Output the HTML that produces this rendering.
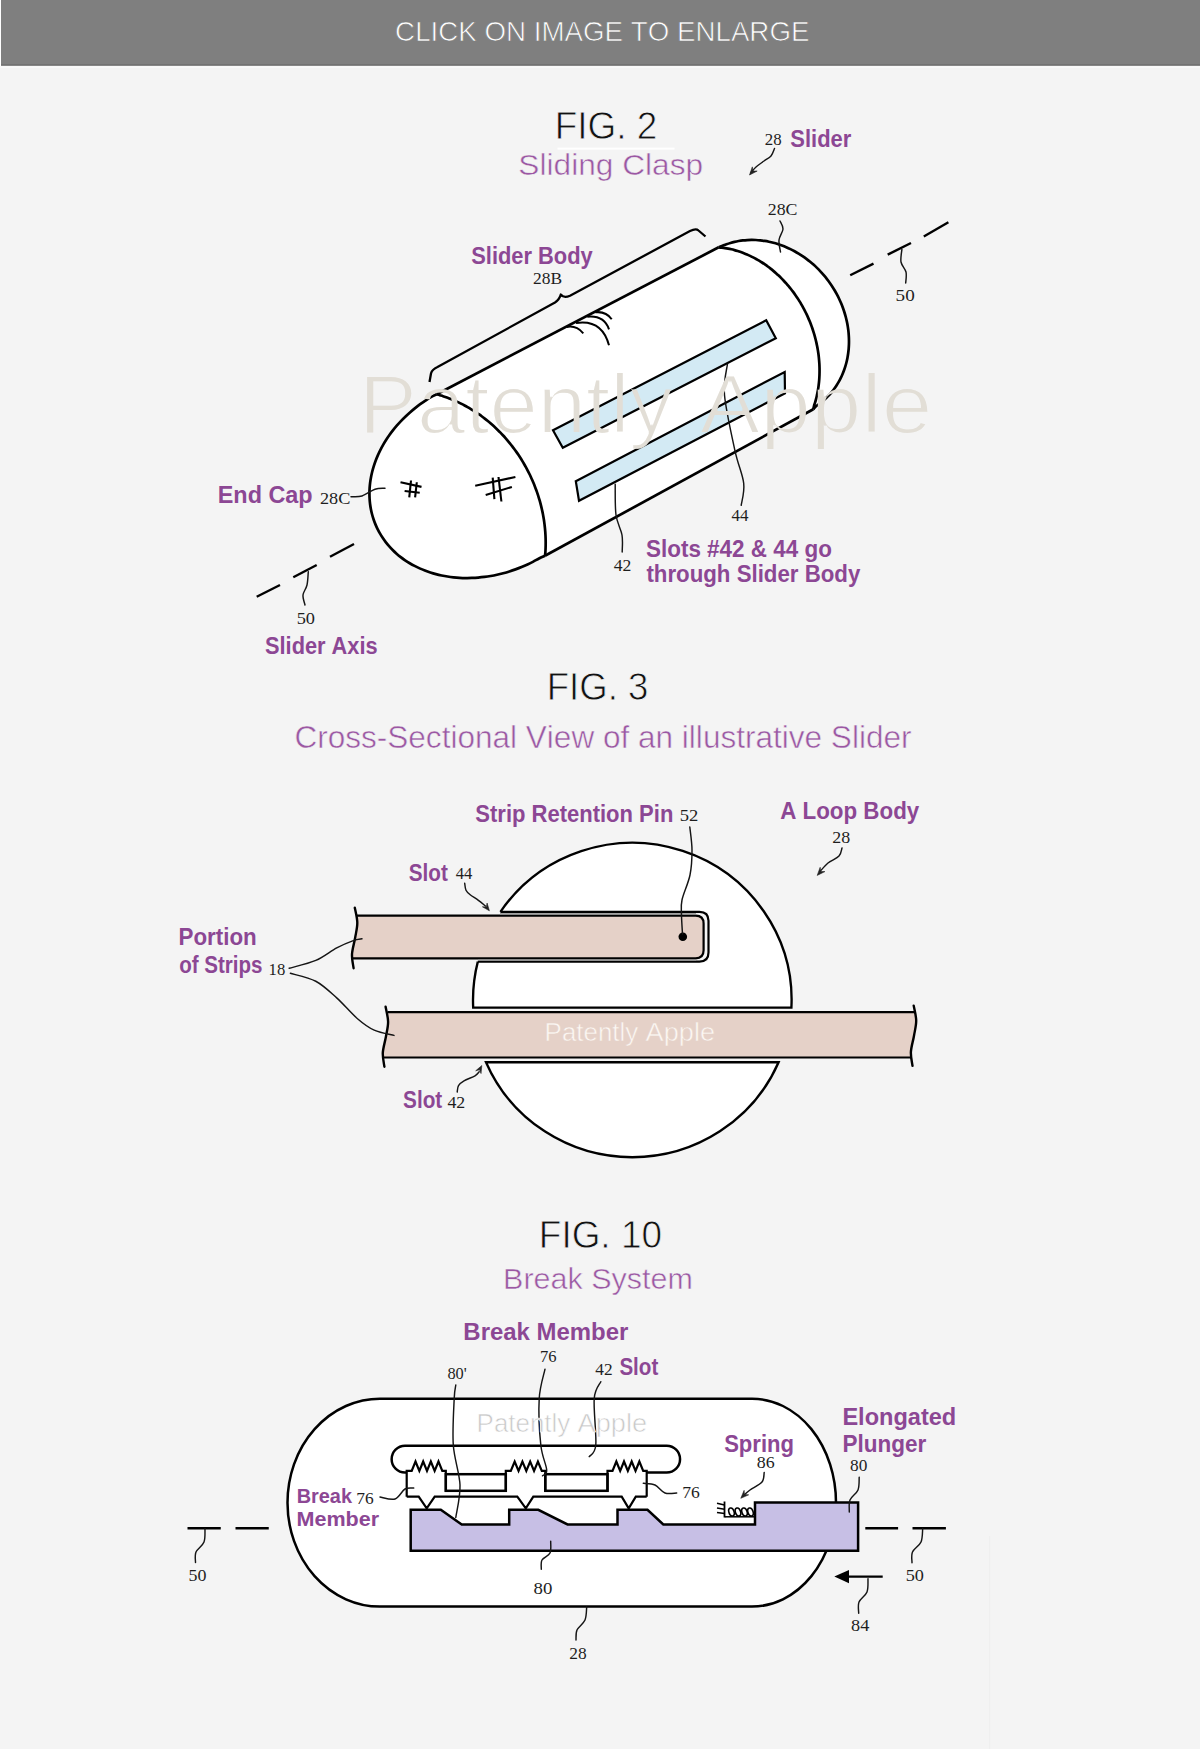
<!DOCTYPE html>
<html><head><meta charset="utf-8"><title>Patent figures</title>
<style>
html,body{margin:0;padding:0;background:#f4f4f4;width:1200px;height:1749px;overflow:hidden;}
svg{display:block;}
text{font-kerning:none;}
</style></head>
<body>
<svg width="1200" height="1749" viewBox="0 0 1200 1749">
<defs><filter id="thin" x="-5%" y="-20%" width="110%" height="140%"><feMorphology operator="erode" radius="1.1"/></filter><filter id="thin2" x="-5%" y="-20%" width="110%" height="140%"><feMorphology operator="erode" radius="0.35"/></filter></defs>
<rect x="0" y="0" width="1200" height="1749" fill="#f4f4f4"/>
<rect x="0" y="0" width="1.2" height="66" fill="#ffffff"/>
<rect x="1" y="0" width="1199" height="65" fill="#7f7f7f"/>
<rect x="1" y="64.4" width="1199" height="1.4" fill="#6b6b6b"/>
<rect x="0" y="66.2" width="1200" height="1.8" fill="#f9f9f9"/>
<text x="395.11" y="41.20" font-family="'Liberation Sans', sans-serif" font-weight="normal" font-size="27.5" fill="#ffffff" textLength="414.34" lengthAdjust="spacingAndGlyphs" stroke="#7f7f7f" stroke-width="0.7">CLICK ON IMAGE TO ENLARGE</text>
<text x="554.75" y="139.30" font-family="'Liberation Sans', sans-serif" font-weight="normal" font-size="39.3" fill="#111111" textLength="102.63" lengthAdjust="spacingAndGlyphs" stroke="#f4f4f4" stroke-width="0.8">FIG. 2</text>
<rect x="557.5" y="147.6" width="117" height="2" fill="#ffffff"/>
<text x="518.38" y="175.30" font-family="'Liberation Sans', sans-serif" font-weight="normal" font-size="29.5" fill="#9b58a3" textLength="184.74" lengthAdjust="spacingAndGlyphs" stroke="#f4f4f4" stroke-width="0.5">Sliding Clasp</text>
<path d="M718.70,247.30 C719.35,247.04 721.29,246.26 722.58,245.75 C723.88,245.23 725.16,244.69 726.47,244.22 C727.78,243.75 729.11,243.32 730.45,242.93 C731.80,242.53 733.16,242.17 734.53,241.86 C735.90,241.54 737.29,241.26 738.68,241.02 C740.08,240.78 741.48,240.57 742.90,240.41 C744.31,240.25 745.74,240.12 747.17,240.04 C748.60,239.95 750.05,239.91 751.49,239.90 C752.94,239.89 754.39,239.93 755.84,240.00 C757.29,240.07 758.75,240.18 760.21,240.33 C761.67,240.48 763.13,240.67 764.59,240.90 C766.05,241.13 767.52,241.40 768.97,241.70 C770.43,242.01 771.89,242.35 773.34,242.73 C774.79,243.12 776.24,243.54 777.68,243.99 C779.12,244.45 780.56,244.95 781.98,245.48 C783.41,246.01 784.83,246.58 786.24,247.19 C787.65,247.79 789.05,248.43 790.43,249.11 C791.82,249.78 793.20,250.50 794.56,251.24 C795.92,251.99 797.27,252.77 798.60,253.58 C799.94,254.39 801.26,255.24 802.56,256.12 C803.86,257.00 805.14,257.91 806.41,258.85 C807.67,259.79 808.92,260.77 810.14,261.77 C811.37,262.77 812.57,263.80 813.76,264.86 C814.94,265.92 816.10,267.01 817.24,268.13 C818.38,269.24 819.49,270.39 820.58,271.55 C821.67,272.72 822.73,273.91 823.77,275.13 C824.81,276.35 825.82,277.59 826.80,278.85 C827.78,280.11 828.74,281.40 829.67,282.70 C830.59,284.01 831.49,285.33 832.36,286.68 C833.22,288.02 834.06,289.38 834.87,290.76 C835.67,292.14 836.45,293.54 837.19,294.95 C837.93,296.36 838.64,297.79 839.31,299.23 C839.99,300.67 840.63,302.12 841.24,303.58 C841.85,305.05 842.42,306.52 842.96,308.01 C843.50,309.49 844.01,310.98 844.47,312.48 C844.94,313.98 845.38,315.49 845.77,317.01 C846.17,318.52 846.53,320.04 846.85,321.56 C847.18,323.08 847.47,324.61 847.72,326.13 C847.97,327.66 848.18,329.18 848.36,330.71 C848.53,332.24 848.67,333.76 848.77,335.29 C848.87,336.81 848.94,338.33 848.96,339.84 C848.99,341.36 848.98,342.87 848.93,344.37 C848.88,345.88 848.79,347.37 848.67,348.86 C848.54,350.35 848.38,351.83 848.18,353.30 C847.98,354.76 847.75,356.22 847.48,357.67 C847.20,359.11 846.89,360.54 846.55,361.96 C846.20,363.38 845.82,364.78 845.40,366.17 C844.98,367.55 844.52,368.93 844.03,370.28 C843.54,371.63 843.02,372.96 842.46,374.28 C841.90,375.59 841.30,376.88 840.67,378.15 C840.04,379.43 839.38,380.68 838.68,381.90 C837.99,383.13 837.26,384.33 836.50,385.51 C835.73,386.69 834.94,387.84 834.12,388.97 C833.29,390.09 832.44,391.20 831.55,392.27 C830.67,393.34 829.75,394.38 828.81,395.40 C827.86,396.41 826.89,397.40 825.89,398.35 C824.89,399.31 823.86,400.23 822.81,401.13 C821.76,402.02 820.68,402.88 819.57,403.71 C818.47,404.53 817.23,405.15 816.19,406.09 C815.14,407.02 813.78,408.76 813.30,409.30 L545.0,555.8 C544.00,556.25 540.95,557.53 539.00,558.50 C537.06,559.46 535.24,560.60 533.32,561.59 C531.40,562.58 529.46,563.53 527.50,564.43 C525.54,565.34 523.56,566.20 521.56,567.02 C519.57,567.85 517.55,568.62 515.52,569.36 C513.50,570.09 511.45,570.78 509.40,571.42 C507.35,572.07 505.28,572.67 503.21,573.22 C501.14,573.77 499.06,574.28 496.98,574.74 C494.89,575.20 492.80,575.61 490.71,575.97 C488.62,576.34 486.52,576.66 484.43,576.92 C482.34,577.19 480.24,577.41 478.16,577.59 C476.07,577.76 473.98,577.88 471.91,577.96 C469.83,578.04 467.76,578.06 465.70,578.04 C463.64,578.02 461.59,577.95 459.55,577.83 C457.52,577.72 455.49,577.55 453.48,577.33 C451.47,577.12 449.48,576.86 447.51,576.54 C445.53,576.23 443.58,575.87 441.64,575.47 C439.71,575.06 437.80,574.61 435.91,574.11 C434.02,573.61 432.16,573.06 430.32,572.47 C428.49,571.88 426.67,571.24 424.89,570.56 C423.12,569.87 421.36,569.14 419.65,568.37 C417.93,567.60 416.24,566.78 414.59,565.92 C412.94,565.07 411.32,564.16 409.74,563.22 C408.16,562.28 406.61,561.29 405.11,560.27 C403.60,559.24 402.14,558.18 400.71,557.08 C399.29,555.97 397.90,554.83 396.57,553.65 C395.23,552.48 393.93,551.26 392.68,550.01 C391.42,548.76 390.22,547.47 389.06,546.16 C387.90,544.84 386.78,543.48 385.72,542.10 C384.65,540.72 383.63,539.30 382.67,537.86 C381.70,536.42 380.78,534.94 379.92,533.44 C379.05,531.94 378.24,530.41 377.47,528.86 C376.71,527.31 376.00,525.73 375.35,524.13 C374.69,522.53 374.08,520.91 373.54,519.27 C372.99,517.63 372.49,515.96 372.05,514.28 C371.61,512.60 371.23,510.90 370.90,509.19 C370.57,507.47 370.29,505.74 370.07,504.00 C369.85,502.26 369.69,500.50 369.59,498.73 C369.48,496.97 369.43,495.19 369.44,493.40 C369.44,491.62 369.50,489.83 369.62,488.03 C369.74,486.23 369.91,484.43 370.14,482.62 C370.37,480.81 370.66,479.00 371.00,477.20 C371.34,475.39 371.74,473.58 372.19,471.77 C372.64,469.96 373.15,468.16 373.71,466.36 C374.27,464.56 374.89,462.76 375.55,460.98 C376.22,459.19 376.94,457.41 377.72,455.64 C378.49,453.88 379.31,452.12 380.19,450.37 C381.07,448.63 382.00,446.89 382.97,445.17 C383.95,443.46 384.98,441.75 386.05,440.07 C387.13,438.38 388.25,436.72 389.42,435.07 C390.59,433.42 391.81,431.79 393.07,430.19 C394.33,428.59 395.64,427.00 396.99,425.45 C398.34,423.89 399.73,422.35 401.16,420.85 C402.59,419.34 404.07,417.86 405.58,416.41 C407.09,414.97 408.65,413.54 410.23,412.15 C411.82,410.76 413.45,409.40 415.11,408.08 C416.77,406.75 418.46,405.46 420.18,404.20 C421.91,402.95 423.67,401.72 425.45,400.54 C427.24,399.35 429.02,398.15 430.90,397.09 C432.77,396.03 435.73,394.68 436.70,394.20 L718.7,247.3Z" fill="#ffffff" stroke="none"/>
<path d="M718.70,247.30 C719.35,247.04 721.29,246.26 722.58,245.75 C723.88,245.23 725.16,244.69 726.47,244.22 C727.78,243.75 729.11,243.32 730.45,242.93 C731.80,242.53 733.16,242.17 734.53,241.86 C735.90,241.54 737.29,241.26 738.68,241.02 C740.08,240.78 741.48,240.57 742.90,240.41 C744.31,240.25 745.74,240.12 747.17,240.04 C748.60,239.95 750.05,239.91 751.49,239.90 C752.94,239.89 754.39,239.93 755.84,240.00 C757.29,240.07 758.75,240.18 760.21,240.33 C761.67,240.48 763.13,240.67 764.59,240.90 C766.05,241.13 767.52,241.40 768.97,241.70 C770.43,242.01 771.89,242.35 773.34,242.73 C774.79,243.12 776.24,243.54 777.68,243.99 C779.12,244.45 780.56,244.95 781.98,245.48 C783.41,246.01 784.83,246.58 786.24,247.19 C787.65,247.79 789.05,248.43 790.43,249.11 C791.82,249.78 793.20,250.50 794.56,251.24 C795.92,251.99 797.27,252.77 798.60,253.58 C799.94,254.39 801.26,255.24 802.56,256.12 C803.86,257.00 805.14,257.91 806.41,258.85 C807.67,259.79 808.92,260.77 810.14,261.77 C811.37,262.77 812.57,263.80 813.76,264.86 C814.94,265.92 816.10,267.01 817.24,268.13 C818.38,269.24 819.49,270.39 820.58,271.55 C821.67,272.72 822.73,273.91 823.77,275.13 C824.81,276.35 825.82,277.59 826.80,278.85 C827.78,280.11 828.74,281.40 829.67,282.70 C830.59,284.01 831.49,285.33 832.36,286.68 C833.22,288.02 834.06,289.38 834.87,290.76 C835.67,292.14 836.45,293.54 837.19,294.95 C837.93,296.36 838.64,297.79 839.31,299.23 C839.99,300.67 840.63,302.12 841.24,303.58 C841.85,305.05 842.42,306.52 842.96,308.01 C843.50,309.49 844.01,310.98 844.47,312.48 C844.94,313.98 845.38,315.49 845.77,317.01 C846.17,318.52 846.53,320.04 846.85,321.56 C847.18,323.08 847.47,324.61 847.72,326.13 C847.97,327.66 848.18,329.18 848.36,330.71 C848.53,332.24 848.67,333.76 848.77,335.29 C848.87,336.81 848.94,338.33 848.96,339.84 C848.99,341.36 848.98,342.87 848.93,344.37 C848.88,345.88 848.79,347.37 848.67,348.86 C848.54,350.35 848.38,351.83 848.18,353.30 C847.98,354.76 847.75,356.22 847.48,357.67 C847.20,359.11 846.89,360.54 846.55,361.96 C846.20,363.38 845.82,364.78 845.40,366.17 C844.98,367.55 844.52,368.93 844.03,370.28 C843.54,371.63 843.02,372.96 842.46,374.28 C841.90,375.59 841.30,376.88 840.67,378.15 C840.04,379.43 839.38,380.68 838.68,381.90 C837.99,383.13 837.26,384.33 836.50,385.51 C835.73,386.69 834.94,387.84 834.12,388.97 C833.29,390.09 832.44,391.20 831.55,392.27 C830.67,393.34 829.75,394.38 828.81,395.40 C827.86,396.41 826.89,397.40 825.89,398.35 C824.89,399.31 823.86,400.23 822.81,401.13 C821.76,402.02 820.68,402.88 819.57,403.71 C818.47,404.53 817.23,405.15 816.19,406.09 C815.14,407.02 813.78,408.76 813.30,409.30" fill="none" stroke="#000" stroke-width="2.7"/>
<path d="M718.70,247.30 C719.23,247.35 720.80,247.49 721.86,247.61 C722.91,247.74 723.97,247.88 725.02,248.05 C726.07,248.21 727.13,248.40 728.18,248.61 C729.24,248.81 730.29,249.04 731.34,249.28 C732.40,249.53 733.45,249.80 734.50,250.08 C735.55,250.37 736.60,250.68 737.64,251.00 C738.69,251.33 739.73,251.67 740.77,252.04 C741.82,252.40 742.85,252.79 743.89,253.19 C744.92,253.60 745.95,254.02 746.98,254.46 C748.01,254.90 749.03,255.37 750.05,255.85 C751.07,256.33 752.08,256.83 753.09,257.34 C754.10,257.86 755.11,258.40 756.10,258.95 C757.10,259.51 758.09,260.08 759.08,260.67 C760.07,261.26 761.05,261.87 762.02,262.50 C762.99,263.13 763.96,263.77 764.92,264.43 C765.87,265.09 766.83,265.77 767.77,266.47 C768.71,267.16 769.65,267.87 770.57,268.60 C771.50,269.33 772.42,270.08 773.33,270.84 C774.24,271.60 775.14,272.37 776.03,273.17 C776.92,273.96 777.80,274.77 778.67,275.59 C779.54,276.41 780.40,277.25 781.25,278.11 C782.10,278.96 782.94,279.83 783.77,280.71 C784.60,281.59 785.42,282.48 786.22,283.39 C787.03,284.30 787.82,285.23 788.61,286.16 C789.39,287.10 790.16,288.05 790.92,289.01 C791.68,289.97 792.43,290.95 793.16,291.93 C793.89,292.92 794.61,293.92 795.32,294.93 C796.03,295.94 796.72,296.96 797.40,297.99 C798.08,299.02 798.75,300.06 799.40,301.12 C800.06,302.17 800.70,303.23 801.32,304.31 C801.95,305.38 802.56,306.46 803.15,307.55 C803.75,308.64 804.33,309.74 804.90,310.85 C805.46,311.96 806.01,313.08 806.55,314.20 C807.09,315.33 807.61,316.46 808.11,317.60 C808.62,318.74 809.11,319.89 809.58,321.04 C810.05,322.20 810.51,323.36 810.95,324.52 C811.39,325.69 811.82,326.86 812.23,328.04 C812.63,329.21 813.03,330.40 813.40,331.58 C813.78,332.77 814.14,333.96 814.48,335.15 C814.82,336.35 815.15,337.55 815.45,338.75 C815.76,339.95 816.05,341.15 816.33,342.36 C816.60,343.57 816.86,344.78 817.10,345.99 C817.34,347.20 817.56,348.41 817.76,349.63 C817.97,350.84 818.16,352.06 818.33,353.27 C818.50,354.49 818.65,355.70 818.78,356.92 C818.92,358.13 819.03,359.35 819.13,360.56 C819.23,361.77 819.31,362.99 819.38,364.20 C819.44,365.41 819.49,366.62 819.51,367.83 C819.54,369.03 819.55,370.24 819.54,371.44 C819.54,372.64 819.51,373.84 819.47,375.03 C819.43,376.23 819.36,377.42 819.29,378.60 C819.21,379.79 819.11,380.97 819.00,382.15 C818.88,383.32 818.75,384.50 818.60,385.66 C818.45,386.83 818.28,387.99 818.10,389.14 C817.91,390.29 817.71,391.44 817.49,392.58 C817.27,393.72 817.04,394.85 816.78,395.98 C816.53,397.10 816.26,398.22 815.97,399.33 C815.68,400.43 815.37,401.54 815.05,402.63 C814.73,403.72 814.32,404.76 814.03,405.87 C813.74,406.98 813.42,408.73 813.30,409.30" fill="none" stroke="#000" stroke-width="2.7"/>
<path d="M436.70,394.20 C435.73,394.68 432.77,396.03 430.90,397.09 C429.02,398.15 427.24,399.35 425.45,400.54 C423.67,401.72 421.91,402.95 420.18,404.20 C418.46,405.46 416.77,406.75 415.11,408.08 C413.45,409.40 411.82,410.76 410.23,412.15 C408.65,413.54 407.09,414.97 405.58,416.41 C404.07,417.86 402.59,419.34 401.16,420.85 C399.73,422.35 398.34,423.89 396.99,425.45 C395.64,427.00 394.33,428.59 393.07,430.19 C391.81,431.79 390.59,433.42 389.42,435.07 C388.25,436.72 387.13,438.38 386.05,440.07 C384.98,441.75 383.95,443.46 382.97,445.17 C382.00,446.89 381.07,448.63 380.19,450.37 C379.31,452.12 378.49,453.88 377.72,455.64 C376.94,457.41 376.22,459.19 375.55,460.98 C374.89,462.76 374.27,464.56 373.71,466.36 C373.15,468.16 372.64,469.96 372.19,471.77 C371.74,473.58 371.34,475.39 371.00,477.20 C370.66,479.00 370.37,480.81 370.14,482.62 C369.91,484.43 369.74,486.23 369.62,488.03 C369.50,489.83 369.44,491.62 369.44,493.40 C369.43,495.19 369.48,496.97 369.59,498.73 C369.69,500.50 369.85,502.26 370.07,504.00 C370.29,505.74 370.57,507.47 370.90,509.19 C371.23,510.90 371.61,512.60 372.05,514.28 C372.49,515.96 372.99,517.63 373.54,519.27 C374.08,520.91 374.69,522.53 375.35,524.13 C376.00,525.73 376.71,527.31 377.47,528.86 C378.24,530.41 379.05,531.94 379.92,533.44 C380.78,534.94 381.70,536.42 382.67,537.86 C383.63,539.30 384.65,540.72 385.72,542.10 C386.78,543.48 387.90,544.84 389.06,546.16 C390.22,547.47 391.42,548.76 392.68,550.01 C393.93,551.26 395.23,552.48 396.57,553.65 C397.90,554.83 399.29,555.97 400.71,557.08 C402.14,558.18 403.60,559.24 405.11,560.27 C406.61,561.29 408.16,562.28 409.74,563.22 C411.32,564.16 412.94,565.07 414.59,565.92 C416.24,566.78 417.93,567.60 419.65,568.37 C421.36,569.14 423.12,569.87 424.89,570.56 C426.67,571.24 428.49,571.88 430.32,572.47 C432.16,573.06 434.02,573.61 435.91,574.11 C437.80,574.61 439.71,575.06 441.64,575.47 C443.58,575.87 445.53,576.23 447.51,576.54 C449.48,576.86 451.47,577.12 453.48,577.33 C455.49,577.55 457.52,577.72 459.55,577.83 C461.59,577.95 463.64,578.02 465.70,578.04 C467.76,578.06 469.83,578.04 471.91,577.96 C473.98,577.88 476.07,577.76 478.16,577.59 C480.24,577.41 482.34,577.19 484.43,576.92 C486.52,576.66 488.62,576.34 490.71,575.97 C492.80,575.61 494.89,575.20 496.98,574.74 C499.06,574.28 501.14,573.77 503.21,573.22 C505.28,572.67 507.35,572.07 509.40,571.42 C511.45,570.78 513.50,570.09 515.52,569.36 C517.55,568.62 519.57,567.85 521.56,567.02 C523.56,566.20 525.54,565.34 527.50,564.43 C529.46,563.53 531.40,562.58 533.32,561.59 C535.24,560.60 537.06,559.46 539.00,558.50 C540.95,557.53 544.00,556.25 545.00,555.80" fill="none" stroke="#000" stroke-width="2.7"/>
<path d="M436.70,394.20 C437.23,394.37 438.81,394.86 439.86,395.19 C440.91,395.52 441.97,395.84 443.02,396.18 C444.07,396.52 445.11,396.88 446.16,397.25 C447.20,397.62 448.24,398.01 449.28,398.41 C450.32,398.80 451.36,399.22 452.39,399.65 C453.42,400.07 454.45,400.52 455.48,400.97 C456.50,401.43 457.53,401.89 458.54,402.38 C459.56,402.86 460.57,403.36 461.58,403.87 C462.59,404.38 463.60,404.90 464.60,405.44 C465.60,405.97 466.59,406.52 467.58,407.09 C468.57,407.65 469.56,408.23 470.53,408.82 C471.51,409.41 472.49,410.01 473.46,410.62 C474.42,411.24 475.39,411.87 476.34,412.51 C477.30,413.15 478.25,413.80 479.19,414.47 C480.14,415.13 481.07,415.81 482.01,416.50 C482.94,417.19 483.86,417.89 484.78,418.60 C485.69,419.32 486.60,420.04 487.51,420.78 C488.41,421.52 489.31,422.26 490.19,423.02 C491.08,423.78 491.96,424.56 492.83,425.34 C493.71,426.12 494.57,426.92 495.43,427.72 C496.28,428.52 497.13,429.34 497.97,430.17 C498.81,430.99 499.64,431.83 500.46,432.68 C501.29,433.52 502.10,434.38 502.91,435.25 C503.71,436.11 504.51,436.99 505.29,437.88 C506.08,438.77 506.86,439.66 507.62,440.57 C508.39,441.48 509.15,442.39 509.90,443.32 C510.65,444.24 511.39,445.18 512.11,446.12 C512.84,447.06 513.56,448.01 514.27,448.97 C514.98,449.93 515.68,450.90 516.36,451.88 C517.05,452.86 517.73,453.84 518.40,454.83 C519.06,455.83 519.72,456.83 520.36,457.84 C521.01,458.85 521.64,459.86 522.26,460.88 C522.89,461.91 523.50,462.94 524.10,463.98 C524.70,465.01 525.29,466.06 525.87,467.11 C526.44,468.16 527.01,469.22 527.56,470.28 C528.12,471.34 528.66,472.41 529.19,473.49 C529.72,474.56 530.24,475.64 530.75,476.73 C531.25,477.82 531.75,478.91 532.23,480.01 C532.71,481.10 533.18,482.21 533.64,483.31 C534.10,484.42 534.54,485.53 534.98,486.65 C535.41,487.76 535.83,488.88 536.24,490.01 C536.64,491.13 537.04,492.26 537.42,493.39 C537.80,494.53 538.17,495.66 538.53,496.80 C538.88,497.94 539.23,499.08 539.56,500.23 C539.89,501.37 540.21,502.52 540.51,503.67 C540.81,504.82 541.11,505.97 541.38,507.13 C541.66,508.28 541.93,509.44 542.18,510.60 C542.43,511.76 542.67,512.92 542.89,514.08 C543.12,515.24 543.33,516.41 543.52,517.57 C543.72,518.73 543.91,519.90 544.08,521.06 C544.25,522.23 544.40,523.40 544.55,524.56 C544.69,525.73 544.82,526.90 544.94,528.06 C545.05,529.23 545.16,530.40 545.25,531.56 C545.33,532.73 545.41,533.89 545.47,535.06 C545.53,536.22 545.58,537.38 545.61,538.55 C545.65,539.71 545.67,540.87 545.68,542.03 C545.68,543.19 545.68,544.34 545.66,545.50 C545.63,546.65 545.60,547.81 545.55,548.96 C545.50,550.11 545.46,551.26 545.37,552.40 C545.27,553.54 545.06,555.23 545.00,555.80" fill="none" stroke="#000" stroke-width="2.7"/>
<line x1="436.7" y1="394.2" x2="718.7" y2="247.3" stroke="#000" stroke-width="2.7" stroke-linecap="butt"/>
<line x1="545.0" y1="555.8" x2="813.3" y2="409.3" stroke="#000" stroke-width="2.7" stroke-linecap="butt"/>
<path d="M553,430.3 L766.2,320.3 L775.8,338.2 L562.8,447.8Z" fill="#d3eaf4" stroke="#000" stroke-width="2.2" stroke-linejoin="miter"/>
<path d="M575.8,481.2 L784.7,372 L785,393.3 L579,500.7Z" fill="#d3eaf4" stroke="#000" stroke-width="2.2" stroke-linejoin="miter"/>
<path d="M566.7,327 Q576,325 583.3,333.3" fill="none" stroke="#000" stroke-width="2"/>
<path d="M576,323 Q602,319 609,345.3" fill="none" stroke="#000" stroke-width="2"/>
<path d="M587.3,316.7 Q604,315 609,329.3" fill="none" stroke="#000" stroke-width="2"/>
<path d="M595.3,312.3 Q606,311 611.7,319.3" fill="none" stroke="#000" stroke-width="2"/>
<line x1="400.5" y1="482.3" x2="421.5" y2="486.9" stroke="#000" stroke-width="2.1" stroke-linecap="butt"/>
<line x1="404.6" y1="491" x2="419.75" y2="492.75" stroke="#000" stroke-width="2.1" stroke-linecap="butt"/>
<line x1="411" y1="480.5" x2="409.25" y2="497.4" stroke="#000" stroke-width="2.1" stroke-linecap="butt"/>
<line x1="416.8" y1="482.25" x2="415.1" y2="497.4" stroke="#000" stroke-width="2.1" stroke-linecap="butt"/>
<line x1="475.2" y1="485.75" x2="515.4" y2="477" stroke="#000" stroke-width="2.1" stroke-linecap="butt"/>
<line x1="485.7" y1="495.1" x2="511.9" y2="486.9" stroke="#000" stroke-width="2.1" stroke-linecap="butt"/>
<line x1="492.7" y1="477.6" x2="494.4" y2="499.2" stroke="#000" stroke-width="2.1" stroke-linecap="butt"/>
<line x1="498.5" y1="477" x2="501.4" y2="501.5" stroke="#000" stroke-width="2.1" stroke-linecap="butt"/>
<path d="M429.5,382 L431,373.5 Q432,369.5 437.5,367 L555,302.5 Q559.5,299.5 560.8,294.5 Q563.5,298.5 570,295.8 L690,231 Q696,228 698.5,230.5 L705.5,236.5" fill="none" stroke="#000" stroke-width="2.3" stroke-linejoin="round"/>
<line x1="850.2" y1="275.2" x2="873.5" y2="263.6" stroke="#000" stroke-width="2.4" stroke-linecap="butt"/>
<line x1="887.7" y1="254.6" x2="911" y2="243" stroke="#000" stroke-width="2.4" stroke-linecap="butt"/>
<line x1="923.8" y1="236.5" x2="948.4" y2="222.3" stroke="#000" stroke-width="2.4" stroke-linecap="butt"/>
<line x1="256.7" y1="596.7" x2="280" y2="585" stroke="#000" stroke-width="2.4" stroke-linecap="butt"/>
<line x1="293.3" y1="577.3" x2="316.7" y2="565" stroke="#000" stroke-width="2.4" stroke-linecap="butt"/>
<line x1="330" y1="556.7" x2="354" y2="544" stroke="#000" stroke-width="2.4" stroke-linecap="butt"/>
<path d="M774.50,148.50 C773.92,149.75 772.75,153.92 771.00,156.00 C769.25,158.08 766.50,159.17 764.00,161.00 C761.50,162.83 758.17,165.08 756.00,167.00 C753.83,168.92 751.83,171.58 751.00,172.50" fill="none" stroke="#151515" stroke-width="1.45" stroke-linecap="round"/>
<path d="M749.50,175.00 L752.32,166.86 L752.91,171.07 L757.16,171.05Z" fill="#222" stroke="#222" stroke-width="0.6" stroke-linejoin="round"/>
<path d="M780.00,221.00 C780.50,222.33 783.17,225.83 783.00,229.00 C782.83,232.17 779.42,236.17 779.00,240.00 C778.58,243.83 780.25,250.00 780.50,252.00" fill="none" stroke="#151515" stroke-width="1.45" stroke-linecap="round"/>
<path d="M901.90,249.40 C901.75,251.50 900.32,258.23 901.00,262.00 C901.68,265.77 905.22,268.50 906.00,272.00 C906.78,275.50 905.75,281.17 905.70,283.00" fill="none" stroke="#151515" stroke-width="1.45" stroke-linecap="round"/>
<path d="M308.30,571.70 C308.08,573.92 307.88,581.12 307.00,585.00 C306.12,588.88 303.33,591.67 303.00,595.00 C302.67,598.33 304.67,603.33 305.00,605.00" fill="none" stroke="#151515" stroke-width="1.45" stroke-linecap="round"/>
<path d="M351.00,496.70 C352.83,496.58 358.00,497.25 362.00,496.00 C366.00,494.75 371.17,490.48 375.00,489.20 C378.83,487.92 383.33,488.45 385.00,488.30" fill="none" stroke="#151515" stroke-width="1.45" stroke-linecap="round"/>
<path d="M727.40,364.20 C726.92,369.33 723.23,380.57 724.50,395.00 C725.77,409.43 731.80,436.08 735.00,450.80 C738.20,465.52 742.67,474.22 743.70,483.30 C744.73,492.38 741.62,501.63 741.20,505.30" fill="none" stroke="#151515" stroke-width="1.45" stroke-linecap="round"/>
<path d="M615.20,484.30 C615.33,489.42 614.87,506.55 616.00,515.00 C617.13,523.45 620.97,528.83 622.00,535.00 C623.03,541.17 622.17,549.17 622.20,552.00" fill="none" stroke="#151515" stroke-width="1.45" stroke-linecap="round"/>
<text x="764.78" y="145.00" font-family="'Liberation Serif', serif" font-weight="normal" font-size="17.6" fill="#1e1e1e" textLength="16.85" lengthAdjust="spacingAndGlyphs">28</text>
<text x="790.34" y="147.30" font-family="'Liberation Sans', sans-serif" font-weight="bold" font-size="23.5" fill="#8c4794" textLength="60.96" lengthAdjust="spacingAndGlyphs">Slider</text>
<text x="767.74" y="215.30" font-family="'Liberation Serif', serif" font-weight="normal" font-size="17.6" fill="#1e1e1e" textLength="29.73" lengthAdjust="spacingAndGlyphs">28C</text>
<text x="471.24" y="263.60" font-family="'Liberation Sans', sans-serif" font-weight="bold" font-size="23.5" fill="#8c4794" textLength="121.51" lengthAdjust="spacingAndGlyphs">Slider Body</text>
<text x="532.96" y="283.70" font-family="'Liberation Serif', serif" font-weight="normal" font-size="17.6" fill="#1e1e1e" textLength="29.11" lengthAdjust="spacingAndGlyphs">28B</text>
<text x="895.60" y="301.00" font-family="'Liberation Serif', serif" font-weight="normal" font-size="17.6" fill="#1e1e1e" textLength="19.12" lengthAdjust="spacingAndGlyphs">50</text>
<text x="217.72" y="503.30" font-family="'Liberation Sans', sans-serif" font-weight="bold" font-size="23.5" fill="#8c4794" textLength="94.93" lengthAdjust="spacingAndGlyphs">End Cap</text>
<text x="319.93" y="504.30" font-family="'Liberation Serif', serif" font-weight="normal" font-size="17.6" fill="#1e1e1e" textLength="30.37" lengthAdjust="spacingAndGlyphs">28C</text>
<text x="731.46" y="521.00" font-family="'Liberation Serif', serif" font-weight="normal" font-size="17.6" fill="#1e1e1e" textLength="16.99" lengthAdjust="spacingAndGlyphs">44</text>
<text x="646.03" y="556.70" font-family="'Liberation Sans', sans-serif" font-weight="bold" font-size="23.5" fill="#8c4794" textLength="185.84" lengthAdjust="spacingAndGlyphs">Slots #42 &amp; 44 go</text>
<text x="646.42" y="582.30" font-family="'Liberation Sans', sans-serif" font-weight="bold" font-size="23.5" fill="#8c4794" textLength="213.92" lengthAdjust="spacingAndGlyphs">through Slider Body</text>
<text x="613.65" y="570.70" font-family="'Liberation Serif', serif" font-weight="normal" font-size="17.6" fill="#1e1e1e" textLength="17.62" lengthAdjust="spacingAndGlyphs">42</text>
<text x="296.65" y="624.30" font-family="'Liberation Serif', serif" font-weight="normal" font-size="17.6" fill="#1e1e1e" textLength="18.34" lengthAdjust="spacingAndGlyphs">50</text>
<text x="265.04" y="654.00" font-family="'Liberation Sans', sans-serif" font-weight="bold" font-size="23.5" fill="#8c4794" textLength="112.58" lengthAdjust="spacingAndGlyphs">Slider Axis</text>
<text x="359.14" y="432.50" font-family="'Liberation Sans', sans-serif" font-weight="normal" font-size="83" fill="#e2ded6" textLength="313.76" lengthAdjust="spacingAndGlyphs" filter="url(#thin)">Patently</text>
<text x="699.47" y="432.50" font-family="'Liberation Sans', sans-serif" font-weight="normal" font-size="83" fill="#e2ded6" textLength="232.81" lengthAdjust="spacingAndGlyphs" filter="url(#thin)">Apple</text>
<text x="546.79" y="699.70" font-family="'Liberation Sans', sans-serif" font-weight="normal" font-size="39.3" fill="#111111" textLength="101.50" lengthAdjust="spacingAndGlyphs" stroke="#f4f4f4" stroke-width="0.8">FIG. 3</text>
<text x="294.42" y="747.80" font-family="'Liberation Sans', sans-serif" font-weight="normal" font-size="30.5" fill="#9b58a3" textLength="617.09" lengthAdjust="spacingAndGlyphs" stroke="#f4f4f4" stroke-width="0.5">Cross-Sectional View of an illustrative Slider</text>
<path d="M500.44,911.8 A159.3,157.2 0 0 1 791.41,1007.6 L473.19,1007.6 A159.3,157.2 0 0 1 477.83,961.6 L708,961.6 L708,911.8 Z" fill="#ffffff" stroke="none"/>
<path d="M500.44,911.8 A159.3,157.2 0 0 1 791.41,1007.6 L473.19,1007.6 A159.3,157.2 0 0 1 477.83,961.6" fill="none" stroke="#000" stroke-width="2.35"/>
<path d="M486.00,1062.2 L778.60,1062.2 A159.3,157.2 0 0 1 486.00,1062.2 Z" fill="#ffffff" stroke="#000" stroke-width="2.35" stroke-linejoin="miter"/>
<path d="M500.44,911.8 L699.5,911.8 Q708.5,911.8 708.5,920.8 L708.5,952.6 Q708.5,961.6 699.5,961.6 L477.83,961.6" fill="none" stroke="#000" stroke-width="2.2"/>
<path d="M356.5,915.6 L695.6,915.6 Q703.6,915.6 703.6,923.6 L703.6,950.3 Q703.6,958.3 695.6,958.3 L352.5,958.3 L352.5,950 L355,940 L357,925 Z" fill="#e5d1c8" stroke="none"/>
<path d="M357,915.6 L695.6,915.6 Q703.6,915.6 703.6,923.6 L703.6,950.3 Q703.6,958.3 695.6,958.3 L352.3,958.3" fill="none" stroke="#000" stroke-width="2.2"/>
<path d="M354.80,907.70 C355.22,910.22 357.25,917.78 357.30,922.83 C357.35,927.87 355.98,932.71 355.10,937.95 C354.22,943.19 352.25,949.24 352.00,954.29 C351.75,959.33 353.33,965.88 353.60,968.20" fill="none" stroke="#000" stroke-width="2.4" stroke-linecap="round"/>
<path d="M387.5,1012.2 L915.5,1012.2 L915,1030 L911,1050 L911,1057.5 L383.2,1057.5 L383.2,1050 L386,1040 L388,1020 Z" fill="#e5d1c8"/>
<line x1="387.5" y1="1012.2" x2="915.5" y2="1012.2" stroke="#000" stroke-width="2.2" stroke-linecap="butt"/>
<line x1="383.2" y1="1057.5" x2="911" y2="1057.5" stroke="#000" stroke-width="2.2" stroke-linecap="butt"/>
<path d="M385.60,1006.80 C386.02,1009.30 388.05,1016.78 388.10,1021.77 C388.15,1026.77 386.78,1031.56 385.90,1036.75 C385.02,1041.94 383.05,1047.93 382.80,1052.92 C382.55,1057.91 384.13,1064.40 384.40,1066.70" fill="none" stroke="#000" stroke-width="2.4" stroke-linecap="round"/>
<path d="M913.70,1005.60 C914.12,1008.11 916.15,1015.63 916.20,1020.65 C916.25,1025.67 914.88,1030.48 914.00,1035.70 C913.12,1040.92 911.15,1046.94 910.90,1051.95 C910.65,1056.97 912.23,1063.49 912.50,1065.80" fill="none" stroke="#000" stroke-width="2.4" stroke-linecap="round"/>
<rect x="500" y="913.1" width="196" height="1.4" fill="#9a9a9a"/>
<rect x="478" y="959.5" width="218" height="1.2" fill="#9a9a9a"/>
<circle cx="682.8" cy="936.7" r="4.3" fill="#000"/>
<text x="544.61" y="1041.20" font-family="'Liberation Sans', sans-serif" font-weight="normal" font-size="25" fill="#fcf7f3" textLength="93.68" lengthAdjust="spacingAndGlyphs" stroke="#e5d1c8" stroke-width="0.5">Patently</text>
<text x="645.63" y="1041.20" font-family="'Liberation Sans', sans-serif" font-weight="normal" font-size="25" fill="#fcf7f3" textLength="69.53" lengthAdjust="spacingAndGlyphs" stroke="#e5d1c8" stroke-width="0.5">Apple</text>
<path d="M689.80,827.00 C690.17,830.83 691.97,842.00 692.00,850.00 C692.03,858.00 691.67,866.67 690.00,875.00 C688.33,883.33 683.42,893.33 682.00,900.00 C680.58,906.67 681.42,909.33 681.50,915.00 C681.58,920.67 682.33,930.83 682.50,934.00" fill="none" stroke="#151515" stroke-width="1.45" stroke-linecap="round"/>
<path d="M464.70,883.30 C464.92,884.45 465.08,888.28 466.00,890.20 C466.92,892.12 468.13,893.12 470.20,894.80 C472.27,896.48 475.85,898.43 478.40,900.30 C480.95,902.17 484.32,905.05 485.50,906.00" fill="none" stroke="#151515" stroke-width="1.45" stroke-linecap="round"/>
<path d="M489.40,910.80 L482.39,906.79 L486.37,906.98 L487.09,903.06Z" fill="#222" stroke="#222" stroke-width="0.6" stroke-linejoin="round"/>
<path d="M842.00,848.00 C841.50,849.33 841.33,853.50 839.00,856.00 C836.67,858.50 831.17,860.42 828.00,863.00 C824.83,865.58 821.33,870.08 820.00,871.50" fill="none" stroke="#151515" stroke-width="1.45" stroke-linecap="round"/>
<path d="M817.20,875.40 L820.17,867.31 L820.67,871.53 L824.93,871.59Z" fill="#222" stroke="#222" stroke-width="0.6" stroke-linejoin="round"/>
<path d="M457.20,1092.00 C457.42,1090.92 457.37,1087.37 458.50,1085.50 C459.63,1083.63 461.25,1082.42 464.00,1080.80 C466.75,1079.18 472.47,1077.30 475.00,1075.80 C477.53,1074.30 478.50,1072.47 479.20,1071.80" fill="none" stroke="#151515" stroke-width="1.45" stroke-linecap="round"/>
<path d="M481.80,1065.50 L481.04,1073.54 L479.57,1069.84 L475.70,1070.80Z" fill="#222" stroke="#222" stroke-width="0.6" stroke-linejoin="round"/>
<path d="M289.20,968.30 C293.63,966.98 307.88,963.80 315.80,960.40 C323.72,957.00 330.45,951.20 336.70,947.90 C342.95,944.60 349.08,942.12 353.30,940.60 C357.52,939.08 360.55,939.10 362.00,938.80" fill="none" stroke="#151515" stroke-width="1.45" stroke-linecap="round"/>
<path d="M290.40,973.30 C294.63,974.62 308.08,977.15 315.80,981.25 C323.52,985.35 329.75,991.65 336.70,997.90 C343.65,1004.15 351.25,1013.37 357.50,1018.75 C363.75,1024.13 368.12,1027.42 374.20,1030.20 C380.28,1032.98 390.70,1034.53 394.00,1035.40" fill="none" stroke="#151515" stroke-width="1.45" stroke-linecap="round"/>
<text x="475.34" y="822.00" font-family="'Liberation Sans', sans-serif" font-weight="bold" font-size="23.5" fill="#8c4794" textLength="197.99" lengthAdjust="spacingAndGlyphs">Strip Retention Pin</text>
<text x="679.73" y="820.80" font-family="'Liberation Serif', serif" font-weight="normal" font-size="17.6" fill="#1e1e1e" textLength="18.59" lengthAdjust="spacingAndGlyphs">52</text>
<text x="780.14" y="819.00" font-family="'Liberation Sans', sans-serif" font-weight="bold" font-size="23.5" fill="#8c4794" textLength="139.12" lengthAdjust="spacingAndGlyphs">A Loop Body</text>
<text x="832.24" y="843.00" font-family="'Liberation Serif', serif" font-weight="normal" font-size="17.6" fill="#1e1e1e" textLength="17.93" lengthAdjust="spacingAndGlyphs">28</text>
<text x="408.68" y="880.70" font-family="'Liberation Sans', sans-serif" font-weight="bold" font-size="23.5" fill="#8c4794" textLength="39.11" lengthAdjust="spacingAndGlyphs">Slot</text>
<text x="455.67" y="879.30" font-family="'Liberation Serif', serif" font-weight="normal" font-size="17.6" fill="#1e1e1e" textLength="16.58" lengthAdjust="spacingAndGlyphs">44</text>
<text x="178.49" y="945.40" font-family="'Liberation Sans', sans-serif" font-weight="bold" font-size="23.5" fill="#8c4794" textLength="78.24" lengthAdjust="spacingAndGlyphs">Portion</text>
<text x="179.18" y="972.90" font-family="'Liberation Sans', sans-serif" font-weight="bold" font-size="23.5" fill="#8c4794" textLength="83.36" lengthAdjust="spacingAndGlyphs">of Strips</text>
<text x="268.54" y="974.60" font-family="'Liberation Serif', serif" font-weight="normal" font-size="17.6" fill="#1e1e1e" textLength="16.69" lengthAdjust="spacingAndGlyphs">18</text>
<text x="403.08" y="1108.30" font-family="'Liberation Sans', sans-serif" font-weight="bold" font-size="23.5" fill="#8c4794" textLength="39.21" lengthAdjust="spacingAndGlyphs">Slot</text>
<text x="447.44" y="1108.20" font-family="'Liberation Serif', serif" font-weight="normal" font-size="17.6" fill="#1e1e1e" textLength="17.84" lengthAdjust="spacingAndGlyphs">42</text>
<text x="538.85" y="1248.10" font-family="'Liberation Sans', sans-serif" font-weight="normal" font-size="39.3" fill="#111111" textLength="123.11" lengthAdjust="spacingAndGlyphs" stroke="#f4f4f4" stroke-width="0.8">FIG. 10</text>
<text x="503.09" y="1288.50" font-family="'Liberation Sans', sans-serif" font-weight="normal" font-size="29.5" fill="#9b58a3" textLength="189.70" lengthAdjust="spacingAndGlyphs" stroke="#f4f4f4" stroke-width="0.5">Break System</text>
<path d="M380,1398.7 L752,1398.7 A84,103.94999999999993 0 0 1 752,1606.6 L380,1606.6 A92.5,103.94999999999993 0 0 1 380,1398.7 Z" fill="#ffffff" stroke="#000" stroke-width="2.5"/>
<path d="M406.7,1472.5 L405,1472.5 A13.3,13.3 0 0 1 405,1445.8 L666.7,1445.8 A13.3,13.3 0 0 1 666.7,1472.5 L646.7,1472.5" fill="none" stroke="#000" stroke-width="2.5"/>
<rect x="445.8" y="1474.2" width="60" height="16.6" fill="none" stroke="#000" stroke-width="2.5"/>
<rect x="545.3" y="1474.2" width="62.2" height="16.6" fill="none" stroke="#000" stroke-width="2.5"/>
<path d="M406.7,1496.7 L406.7,1470.8 L411.70,1470.80 L415.52,1461.50 L419.35,1470.80 L423.18,1461.50 L427.00,1470.80 L430.82,1461.50 L434.65,1470.80 L438.48,1461.50 L442.30,1470.80 L445.8,1470.8 L445.8,1491.8" fill="none" stroke="#000" stroke-width="2.2" stroke-linejoin="miter"/>
<path d="M505.8,1491.8 L505.8,1470.8 L510.80,1470.80 L514.67,1461.50 L518.55,1470.80 L522.42,1461.50 L526.30,1470.80 L530.17,1461.50 L534.05,1470.80 L537.92,1461.50 L541.80,1470.80 L545.3,1470.8 L545.3,1491.8" fill="none" stroke="#000" stroke-width="2.2" stroke-linejoin="miter"/>
<path d="M607.5,1491.8 L607.5,1470.8 L612.50,1470.80 L616.34,1461.50 L620.17,1470.80 L624.01,1461.50 L627.85,1470.80 L631.69,1461.50 L635.53,1470.80 L639.36,1461.50 L643.20,1470.80 L646.7,1470.8 L646.7,1496.7" fill="none" stroke="#000" stroke-width="2.2" stroke-linejoin="miter"/>
<path d="M406.7,1496.7 L418.7,1496.7 L426.7,1508.3 L434.7,1496.7 L517.3,1496.7 L525.8,1508.3 L533.3,1496.7 L621.7,1496.7 L628.7,1508.3 L635.8,1496.7 L646.7,1496.7" fill="none" stroke="#000" stroke-width="2.2" stroke-linejoin="miter"/>
<path d="M410.7,1550.8 L410.7,1509.8 L440.8,1509.8 L461.7,1524.4 L509.2,1524.4 L509.2,1509.8 L538.3,1509.8 L567.5,1524.4 L617.5,1524.4 L617.5,1509.8 L647.5,1509.8 L663.3,1524.4 L755,1524.4 L755,1502.6 L858.1,1502.6 L858.1,1550.8 Z" fill="#c7bfe5" stroke="#000" stroke-width="2.5" stroke-linejoin="miter"/>
<line x1="717" y1="1503.25" x2="724.5" y2="1505" stroke="#000" stroke-width="1.7" stroke-linecap="butt"/>
<line x1="717" y1="1508" x2="724.5" y2="1509.25" stroke="#000" stroke-width="1.7" stroke-linecap="butt"/>
<line x1="717" y1="1512.5" x2="724.5" y2="1513.5" stroke="#000" stroke-width="1.7" stroke-linecap="butt"/>
<line x1="724.5" y1="1501.5" x2="724.5" y2="1517.5" stroke="#000" stroke-width="1.8" stroke-linecap="butt"/>
<path d="M724.8,1516.8 L754,1516.8" fill="none" stroke="#000" stroke-width="1.5"/>
<ellipse cx="731.5" cy="1512" rx="2.6" ry="4.1" transform="rotate(-18 731.5 1512)" fill="none" stroke="#000" stroke-width="1.6"/>
<ellipse cx="738" cy="1512" rx="2.6" ry="4.1" transform="rotate(-18 738 1512)" fill="none" stroke="#000" stroke-width="1.6"/>
<ellipse cx="744.5" cy="1512" rx="2.6" ry="4.1" transform="rotate(-18 744.5 1512)" fill="none" stroke="#000" stroke-width="1.6"/>
<ellipse cx="750.5" cy="1512" rx="2.6" ry="4.1" transform="rotate(-18 750.5 1512)" fill="none" stroke="#000" stroke-width="1.6"/>
<line x1="187.5" y1="1528.3" x2="220.75" y2="1528.3" stroke="#000" stroke-width="2.4" stroke-linecap="butt"/>
<line x1="235.5" y1="1528.3" x2="268.75" y2="1528.3" stroke="#000" stroke-width="2.4" stroke-linecap="butt"/>
<line x1="865.3" y1="1528.3" x2="898.1" y2="1528.3" stroke="#000" stroke-width="2.4" stroke-linecap="butt"/>
<line x1="912.5" y1="1528.3" x2="945.9" y2="1528.3" stroke="#000" stroke-width="2.4" stroke-linecap="butt"/>
<line x1="846" y1="1576.6" x2="882.7" y2="1576.6" stroke="#000" stroke-width="2.4" stroke-linecap="butt"/>
<path d="M834.3,1576.6 L849,1570 L849,1583.2 Z" fill="#000"/>
<path d="M455.80,1385.00 C455.53,1387.28 454.62,1388.70 454.20,1398.70 C453.78,1408.70 452.33,1430.62 453.30,1445.00 C454.27,1459.38 459.58,1472.92 460.00,1485.00 C460.42,1497.08 456.50,1512.08 455.80,1517.50" fill="none" stroke="#151515" stroke-width="1.45" stroke-linecap="round"/>
<path d="M545.00,1369.20 C544.03,1374.12 539.90,1386.07 539.20,1398.70 C538.50,1411.33 539.55,1433.12 540.80,1445.00 C542.05,1456.88 546.42,1464.87 546.70,1470.00 C546.98,1475.13 543.20,1474.83 542.50,1475.80" fill="none" stroke="#151515" stroke-width="1.45" stroke-linecap="round"/>
<path d="M600.80,1381.70 C599.70,1384.53 595.03,1388.15 594.20,1398.70 C593.37,1409.25 596.63,1435.33 595.80,1445.00 C594.97,1454.67 590.30,1454.75 589.20,1456.70" fill="none" stroke="#151515" stroke-width="1.45" stroke-linecap="round"/>
<path d="M380.00,1497.00 C382.50,1497.33 390.83,1500.33 395.00,1499.00 C399.17,1497.67 401.88,1490.83 405.00,1489.00 C408.12,1487.17 412.29,1488.17 413.75,1488.00" fill="none" stroke="#151515" stroke-width="1.45" stroke-linecap="round"/>
<path d="M643.30,1483.30 C645.25,1483.58 651.38,1483.38 655.00,1485.00 C658.62,1486.62 661.38,1491.67 665.00,1493.00 C668.62,1494.33 674.75,1493.00 676.70,1493.00" fill="none" stroke="#151515" stroke-width="1.45" stroke-linecap="round"/>
<path d="M764.20,1472.50 C763.83,1474.08 764.37,1479.08 762.00,1482.00 C759.63,1484.92 753.08,1487.75 750.00,1490.00 C746.92,1492.25 744.58,1494.58 743.50,1495.50" fill="none" stroke="#151515" stroke-width="1.45" stroke-linecap="round"/>
<path d="M740.80,1498.30 L744.12,1490.35 L744.44,1494.59 L748.69,1494.83Z" fill="#222" stroke="#222" stroke-width="0.6" stroke-linejoin="round"/>
<path d="M859.20,1477.30 C859.00,1479.42 859.53,1486.22 858.00,1490.00 C856.47,1493.78 851.45,1496.33 850.00,1500.00 C848.55,1503.67 849.42,1510.00 849.30,1512.00" fill="none" stroke="#151515" stroke-width="1.45" stroke-linecap="round"/>
<path d="M550.70,1541.30 C550.58,1543.25 551.45,1549.88 550.00,1553.00 C548.55,1556.12 543.45,1557.28 542.00,1560.00 C540.55,1562.72 541.42,1567.75 541.30,1569.30" fill="none" stroke="#151515" stroke-width="1.45" stroke-linecap="round"/>
<path d="M586.70,1607.00 C586.42,1609.17 586.62,1616.17 585.00,1620.00 C583.38,1623.83 578.50,1626.67 577.00,1630.00 C575.50,1633.33 576.17,1638.33 576.00,1640.00" fill="none" stroke="#151515" stroke-width="1.45" stroke-linecap="round"/>
<path d="M205.00,1528.50 C204.83,1530.75 205.50,1538.08 204.00,1542.00 C202.50,1545.92 197.42,1548.58 196.00,1552.00 C194.58,1555.42 195.58,1560.75 195.50,1562.50" fill="none" stroke="#151515" stroke-width="1.45" stroke-linecap="round"/>
<path d="M922.70,1528.50 C922.42,1530.75 922.70,1538.08 921.00,1542.00 C919.30,1545.92 914.00,1548.55 912.50,1552.00 C911.00,1555.45 912.08,1560.92 912.00,1562.70" fill="none" stroke="#151515" stroke-width="1.45" stroke-linecap="round"/>
<path d="M868.00,1578.70 C867.83,1580.92 868.50,1588.12 867.00,1592.00 C865.50,1595.88 860.38,1598.45 859.00,1602.00 C857.62,1605.55 858.75,1611.42 858.70,1613.30" fill="none" stroke="#151515" stroke-width="1.45" stroke-linecap="round"/>
<text x="476.61" y="1432.00" font-family="'Liberation Sans', sans-serif" font-weight="normal" font-size="25" fill="#c9c9c9" textLength="93.68" lengthAdjust="spacingAndGlyphs" stroke="#ffffff" stroke-width="0.6">Patently</text>
<text x="577.63" y="1432.00" font-family="'Liberation Sans', sans-serif" font-weight="normal" font-size="25" fill="#c9c9c9" textLength="69.53" lengthAdjust="spacingAndGlyphs" stroke="#ffffff" stroke-width="0.6">Apple</text>
<text x="463.38" y="1339.60" font-family="'Liberation Sans', sans-serif" font-weight="bold" font-size="23.5" fill="#8c4794" textLength="164.97" lengthAdjust="spacingAndGlyphs">Break Member</text>
<text x="539.92" y="1362.00" font-family="'Liberation Serif', serif" font-weight="normal" font-size="17.6" fill="#1e1e1e" textLength="16.57" lengthAdjust="spacingAndGlyphs">76</text>
<text x="447.39" y="1379.00" font-family="'Liberation Serif', serif" font-weight="normal" font-size="17.6" fill="#1e1e1e" textLength="19.31" lengthAdjust="spacingAndGlyphs">80'</text>
<text x="595.25" y="1375.00" font-family="'Liberation Serif', serif" font-weight="normal" font-size="17.6" fill="#1e1e1e" textLength="17.30" lengthAdjust="spacingAndGlyphs">42</text>
<text x="619.38" y="1375.00" font-family="'Liberation Sans', sans-serif" font-weight="bold" font-size="23.5" fill="#8c4794" textLength="38.90" lengthAdjust="spacingAndGlyphs">Slot</text>
<text x="296.66" y="1502.70" font-family="'Liberation Sans', sans-serif" font-weight="bold" font-size="19.6" fill="#8c4794" textLength="55.34" lengthAdjust="spacingAndGlyphs">Break</text>
<text x="296.55" y="1525.70" font-family="'Liberation Sans', sans-serif" font-weight="bold" font-size="19.6" fill="#8c4794" textLength="82.52" lengthAdjust="spacingAndGlyphs">Member</text>
<text x="356.37" y="1503.75" font-family="'Liberation Serif', serif" font-weight="normal" font-size="17.6" fill="#1e1e1e" textLength="17.40" lengthAdjust="spacingAndGlyphs">76</text>
<text x="188.47" y="1580.75" font-family="'Liberation Serif', serif" font-weight="normal" font-size="17.6" fill="#1e1e1e" textLength="17.96" lengthAdjust="spacingAndGlyphs">50</text>
<text x="724.14" y="1452.00" font-family="'Liberation Sans', sans-serif" font-weight="bold" font-size="23.5" fill="#8c4794" textLength="69.83" lengthAdjust="spacingAndGlyphs">Spring</text>
<text x="756.83" y="1467.50" font-family="'Liberation Serif', serif" font-weight="normal" font-size="17.6" fill="#1e1e1e" textLength="17.91" lengthAdjust="spacingAndGlyphs">86</text>
<text x="842.41" y="1425.30" font-family="'Liberation Sans', sans-serif" font-weight="bold" font-size="23.5" fill="#8c4794" textLength="113.85" lengthAdjust="spacingAndGlyphs">Elongated</text>
<text x="842.48" y="1452.00" font-family="'Liberation Sans', sans-serif" font-weight="bold" font-size="23.5" fill="#8c4794" textLength="83.76" lengthAdjust="spacingAndGlyphs">Plunger</text>
<text x="850.05" y="1470.70" font-family="'Liberation Serif', serif" font-weight="normal" font-size="17.6" fill="#1e1e1e" textLength="17.30" lengthAdjust="spacingAndGlyphs">80</text>
<text x="682.16" y="1498.30" font-family="'Liberation Serif', serif" font-weight="normal" font-size="17.6" fill="#1e1e1e" textLength="17.57" lengthAdjust="spacingAndGlyphs">76</text>
<text x="905.65" y="1581.30" font-family="'Liberation Serif', serif" font-weight="normal" font-size="17.6" fill="#1e1e1e" textLength="18.23" lengthAdjust="spacingAndGlyphs">50</text>
<text x="533.59" y="1594.00" font-family="'Liberation Serif', serif" font-weight="normal" font-size="17.6" fill="#1e1e1e" textLength="18.81" lengthAdjust="spacingAndGlyphs">80</text>
<text x="569.26" y="1659.00" font-family="'Liberation Serif', serif" font-weight="normal" font-size="17.6" fill="#1e1e1e" textLength="17.39" lengthAdjust="spacingAndGlyphs">28</text>
<text x="851.02" y="1630.70" font-family="'Liberation Serif', serif" font-weight="normal" font-size="17.6" fill="#1e1e1e" textLength="18.26" lengthAdjust="spacingAndGlyphs">84</text>
<rect x="989" y="1536" width="1.2" height="213" fill="#efefef"/>
</svg>
</body></html>
